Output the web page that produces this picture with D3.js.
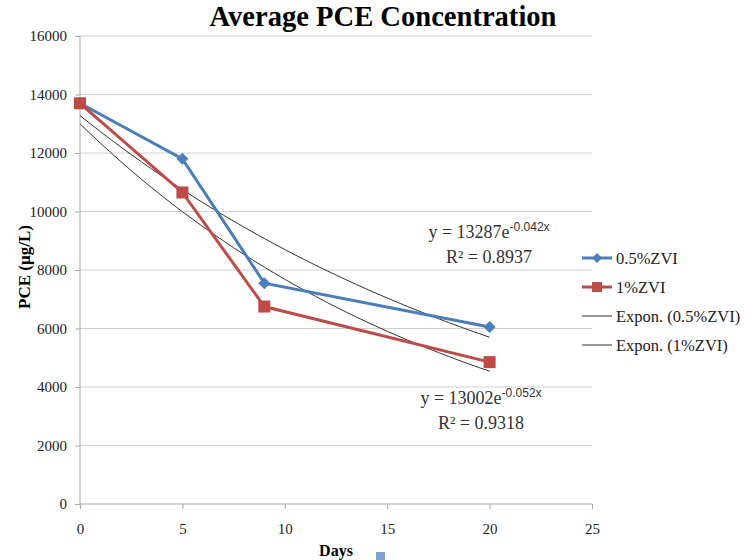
<!DOCTYPE html>
<html>
<meta charset="utf-8">
<style>
  body { margin: 0; background: #fff; }
  text { font-family: "Liberation Serif", "Times New Roman", serif; }
  .grid line { stroke: #d0d0d0; }
  .axis path, .axis line { stroke: #a8a8a8; }
</style>
<body>
<script src="https://d3js.org/d3.v7.min.js"></script>
<script>
// data
var days = [0, 5, 9, 20];
var zvi05 = [13700, 11800, 7550, 6050];
var zvi1 = [13700, 10650, 6750, 4850];
var seriesNames = ["0.5%ZVI", "1%ZVI"];
var xTicks = [0, 5, 10, 15, 20, 25];
var yTicks = [0, 2000, 4000, 6000, 8000, 10000, 12000, 14000, 16000];
var eqLabels = [["y = 13287e", "-0.042x", "R\u00b2 = 0.8937"], ["y = 13002e", "-0.052x", "R\u00b2 = 0.9318"]];

var width = 755, height = 560;
var margin = {top: 36, right: 163, bottom: 56, left: 80};

var svg = d3.select("body").append("svg")
    .attr("width", width)
    .attr("height", height);

var x = d3.scaleLinear().domain([0, 25]).range([margin.left, width - margin.right]);
var y = d3.scaleLinear().domain([0, 16000]).range([height - margin.bottom, margin.top]);

// gridlines
svg.append("g")
    .attr("class", "grid")
  .selectAll("line")
    .data(yTicks.slice(1))
  .enter().append("line")
    .attr("x1", x(0)).attr("x2", x(25))
    .attr("y1", function(d) { return y(d); })
    .attr("y2", function(d) { return y(d); });

svg.append("g")
    .attr("class", "axis")
    .attr("transform", "translate(0," + y(0) + ")")
    .call(d3.axisBottom(x).tickValues(xTicks).tickSize(5).tickPadding(14).tickFormat(d3.format("d")))
    .call(function(g) { g.select(".domain").attr("d", "M" + x(0) + ",0H" + x(25)); });

svg.append("g")
    .attr("class", "axis")
    .attr("transform", "translate(" + x(0) + ",0)")
    .call(d3.axisLeft(y).tickValues(yTicks).tickSize(5).tickPadding(8).tickFormat(d3.format("d")))
    .call(function(g) { g.select(".domain").attr("d", "M0," + y(0) + "V" + y(16000)); });

svg.selectAll(".axis text")
    .style("font-family", "'Liberation Serif', 'Times New Roman', serif")
    .style("font-size", "15px")
    .style("fill", "#222");

// exponential fit, same as the spreadsheet trendline
function expFit(xs, ys) {
  var lx = d3.mean(xs), ly = d3.mean(ys, function(v) { return Math.log(v); });
  var sxy = d3.sum(xs, function(v, i) { return (v - lx) * (Math.log(ys[i]) - ly); });
  var sxx = d3.sum(xs, function(v) { return (v - lx) * (v - lx); });
  var b = sxy / sxx;
  return {a: Math.exp(ly - b * lx), b: b};
}

var line = d3.line()
    .x(function(d) { return x(d[0]); })
    .y(function(d) { return y(d[1]); });

[zvi05, zvi1].forEach(function(s) {
  var f = expFit(days, s);
  var pts = d3.range(0, 20.01, 0.5).map(function(t) { return [t, f.a * Math.exp(f.b * t)]; });
  svg.append("path")
      .attr("d", line(pts))
      .attr("fill", "none")
      .attr("stroke", "#333")
      .attr("stroke-width", 1);
});

var colors = ["#4a7ebb", "#be4b48"];

[zvi05, zvi1].forEach(function(s, k) {
  var pts = days.map(function(d, i) { return [d, s[i]]; });
  svg.append("path")
      .attr("d", line(pts))
      .attr("fill", "none")
      .attr("stroke", colors[k])
      .attr("stroke-width", 3);
  svg.selectAll(".m" + k)
      .data(pts)
    .enter().append("path")
      .attr("class", "m" + k)
      .attr("transform", function(d) { return "translate(" + x(d[0]) + "," + y(d[1]) + ")"; })
      .attr("d", k === 0 ? "M0,-6L6,0L0,6L-6,0Z" : "M-6,-6H6V6H-6Z")
      .attr("fill", colors[k]);
});

// equations
var eqPos = [[489, 238], [481, 404]];
eqLabels.forEach(function(e, i) {
  var t = svg.append("text")
      .attr("x", eqPos[i][0]).attr("y", eqPos[i][1])
      .attr("text-anchor", "middle")
      .style("font-size", "18px").style("fill", "#333");
  t.append("tspan").text(e[0]);
  t.append("tspan").attr("dy", -7).style("font-size", "12px").style("font-family", "'Liberation Sans', Arial, sans-serif").text(e[1]);
  svg.append("text")
      .attr("x", eqPos[i][0]).attr("y", eqPos[i][1] + 25)
      .attr("text-anchor", "middle")
      .style("font-size", "18px").style("fill", "#333")
      .text(e[2]);
});

// legend
var legendItems = [
  {name: seriesNames[0], color: colors[0], w: 3, mark: "M0,-5L5,0L0,5L-5,0Z"},
  {name: seriesNames[1], color: colors[1], w: 3, mark: "M-5,-5H5V5H-5Z"},
  {name: "Expon. (" + seriesNames[0] + ")", color: "#333", w: 1, mark: null},
  {name: "Expon. (" + seriesNames[1] + ")", color: "#333", w: 1, mark: null}
];
var lg = svg.selectAll(".leg")
    .data(legendItems)
  .enter().append("g")
    .attr("class", "leg")
    .attr("transform", function(d, i) { return "translate(582," + (258 + i * 29) + ")"; });
lg.append("line")
    .attr("x1", 0).attr("x2", 30)
    .attr("stroke", function(d) { return d.color; })
    .attr("stroke-width", function(d) { return d.w; });
lg.filter(function(d) { return d.mark; }).append("path")
    .attr("transform", "translate(15,0)")
    .attr("d", function(d) { return d.mark; })
    .attr("fill", function(d) { return d.color; });
lg.append("text")
    .attr("x", 34).attr("y", 6)
    .style("font-size", "16.5px").style("fill", "#222")
    .text(function(d) { return d.name; });

// titles
svg.append("text")
    .attr("x", 383).attr("y", 26)
    .attr("text-anchor", "middle")
    .attr("textLength", 347).attr("lengthAdjust", "spacingAndGlyphs")
    .style("font-size", "30px").style("font-weight", "bold")
    .text("Average PCE Concentration");

svg.append("text")
    .attr("transform", "translate(30,267) rotate(-90)")
    .attr("text-anchor", "middle")
    .style("font-size", "17px").style("font-weight", "bold")
    .text("PCE (\u00b5g/L)");

svg.append("text")
    .attr("x", 336).attr("y", 556)
    .attr("text-anchor", "middle")
    .style("font-size", "16px").style("font-weight", "bold")
    .text("Days");

svg.append("rect")
    .attr("x", 376).attr("y", 552).attr("width", 9).attr("height", 9)
    .attr("fill", "#4a7ebb").attr("opacity", 0.7);
</script>
</body>
</html>
